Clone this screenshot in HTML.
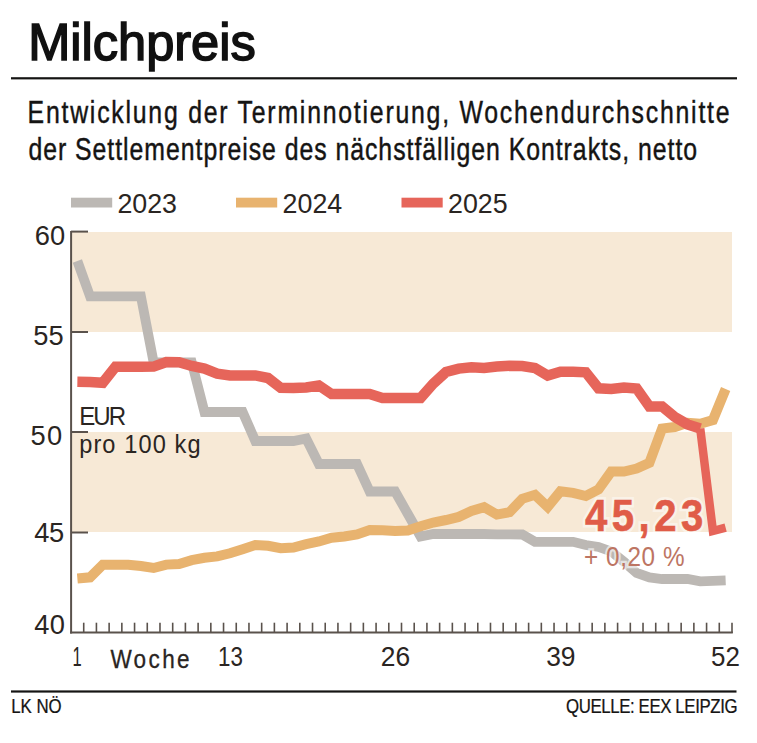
<!DOCTYPE html>
<html><head><meta charset="utf-8"><style>
html,body{margin:0;padding:0;background:#fff;}
svg{display:block;}
text{font-family:"Liberation Sans",sans-serif;}
</style></head><body>
<svg width="757" height="743" viewBox="0 0 757 743">
<rect width="757" height="743" fill="#fff"/>
<text x="28.20" y="59.9" font-size="52" fill="#111111" stroke="#111111" stroke-width="1.6" textLength="227.56" lengthAdjust="spacingAndGlyphs">Milchpreis</text>
<rect x="11" y="77.2" width="726" height="2.2" fill="#151413"/>
<text x="0" y="0" transform="translate(27.60 122.7) scale(0.8 1)" font-size="31" fill="#151413" stroke="#151413" stroke-width="0.45" textLength="877.44" lengthAdjust="spacing">Entwicklung der Terminnotierung, Wochendurchschnitte</text>
<text x="0" y="0" transform="translate(28.40 160.4) scale(0.8 1)" font-size="31" fill="#151413" stroke="#151413" stroke-width="0.45" textLength="835.81" lengthAdjust="spacing">der Settlementpreise des nächstfälligen Kontrakts, netto</text>
<rect x="71" y="197.7" width="41.2" height="9.8" fill="#bcb8b4"/>
<text x="0" y="0" transform="translate(117.40 212.7) scale(1.0 1)" font-size="26.8" fill="#2a2522" textLength="59.62" lengthAdjust="spacing">2023</text>
<rect x="236" y="197.7" width="41.2" height="9.8" fill="#e8b36f"/>
<text x="0" y="0" transform="translate(282.60 212.7) scale(1.0 1)" font-size="26.8" fill="#2a2522" textLength="59.62" lengthAdjust="spacing">2024</text>
<rect x="401.5" y="197.7" width="41.2" height="9.8" fill="#e6655a"/>
<text x="0" y="0" transform="translate(448.00 212.7) scale(1.0 1)" font-size="26.8" fill="#2a2522" textLength="59.62" lengthAdjust="spacing">2025</text>
<rect x="72" y="232" width="660" height="100" fill="#f7e9d6"/>
<rect x="72" y="432" width="660" height="100" fill="#f7e9d6"/>
<g stroke="#5a524c" fill="none">
<line x1="71.1" y1="231" x2="71.1" y2="633.5" stroke-width="2"/>
<line x1="70" y1="632.6" x2="732.8" y2="632.6" stroke-width="2"/>
<line x1="71" y1="231.6" x2="88" y2="231.6" stroke-width="2"/>
<line x1="71" y1="332" x2="88" y2="332" stroke-width="2"/>
<line x1="71" y1="432" x2="88" y2="432" stroke-width="2"/>
<line x1="71" y1="532.5" x2="88" y2="532.5" stroke-width="2"/>
<g stroke-width="1.6"><line x1="83.71" y1="622.7" x2="83.71" y2="633"/><line x1="96.42" y1="622.7" x2="96.42" y2="633"/><line x1="109.13" y1="622.7" x2="109.13" y2="633"/><line x1="121.85" y1="622.7" x2="121.85" y2="633"/><line x1="134.56" y1="622.7" x2="134.56" y2="633"/><line x1="147.27" y1="622.7" x2="147.27" y2="633"/><line x1="159.98" y1="622.7" x2="159.98" y2="633"/><line x1="172.69" y1="622.7" x2="172.69" y2="633"/><line x1="185.40" y1="622.7" x2="185.40" y2="633"/><line x1="198.12" y1="622.7" x2="198.12" y2="633"/><line x1="210.83" y1="622.7" x2="210.83" y2="633"/><line x1="223.54" y1="622.7" x2="223.54" y2="633"/><line x1="236.25" y1="622.7" x2="236.25" y2="633"/><line x1="248.96" y1="622.7" x2="248.96" y2="633"/><line x1="261.67" y1="622.7" x2="261.67" y2="633"/><line x1="274.38" y1="622.7" x2="274.38" y2="633"/><line x1="287.10" y1="622.7" x2="287.10" y2="633"/><line x1="299.81" y1="622.7" x2="299.81" y2="633"/><line x1="312.52" y1="622.7" x2="312.52" y2="633"/><line x1="325.23" y1="622.7" x2="325.23" y2="633"/><line x1="337.94" y1="622.7" x2="337.94" y2="633"/><line x1="350.65" y1="622.7" x2="350.65" y2="633"/><line x1="363.37" y1="622.7" x2="363.37" y2="633"/><line x1="376.08" y1="622.7" x2="376.08" y2="633"/><line x1="388.79" y1="622.7" x2="388.79" y2="633"/><line x1="401.50" y1="622.7" x2="401.50" y2="633"/><line x1="414.21" y1="622.7" x2="414.21" y2="633"/><line x1="426.92" y1="622.7" x2="426.92" y2="633"/><line x1="439.63" y1="622.7" x2="439.63" y2="633"/><line x1="452.35" y1="622.7" x2="452.35" y2="633"/><line x1="465.06" y1="622.7" x2="465.06" y2="633"/><line x1="477.77" y1="622.7" x2="477.77" y2="633"/><line x1="490.48" y1="622.7" x2="490.48" y2="633"/><line x1="503.19" y1="622.7" x2="503.19" y2="633"/><line x1="515.90" y1="622.7" x2="515.90" y2="633"/><line x1="528.62" y1="622.7" x2="528.62" y2="633"/><line x1="541.33" y1="622.7" x2="541.33" y2="633"/><line x1="554.04" y1="622.7" x2="554.04" y2="633"/><line x1="566.75" y1="622.7" x2="566.75" y2="633"/><line x1="579.46" y1="622.7" x2="579.46" y2="633"/><line x1="592.17" y1="622.7" x2="592.17" y2="633"/><line x1="604.88" y1="622.7" x2="604.88" y2="633"/><line x1="617.60" y1="622.7" x2="617.60" y2="633"/><line x1="630.31" y1="622.7" x2="630.31" y2="633"/><line x1="643.02" y1="622.7" x2="643.02" y2="633"/><line x1="655.73" y1="622.7" x2="655.73" y2="633"/><line x1="668.44" y1="622.7" x2="668.44" y2="633"/><line x1="681.15" y1="622.7" x2="681.15" y2="633"/><line x1="693.87" y1="622.7" x2="693.87" y2="633"/><line x1="706.58" y1="622.7" x2="706.58" y2="633"/><line x1="719.29" y1="622.7" x2="719.29" y2="633"/><line x1="732.00" y1="622.7" x2="732.00" y2="633"/></g>
</g>
<text x="0" y="0" transform="translate(34.80 244.6) scale(1.0 1)" font-size="27.3" fill="#2a2522" textLength="30.38" lengthAdjust="spacing">60</text><text x="0" y="0" transform="translate(33.20 344.5) scale(1.0 1)" font-size="27.3" fill="#2a2522" textLength="30.38" lengthAdjust="spacing">55</text><text x="0" y="0" transform="translate(30.40 444.6) scale(1.0 1)" font-size="27.3" fill="#2a2522" textLength="31.88" lengthAdjust="spacing">50</text><text x="0" y="0" transform="translate(34.20 542.0) scale(1.0 1)" font-size="27.3" fill="#2a2522" textLength="29.88" lengthAdjust="spacing">45</text><text x="0" y="0" transform="translate(34.20 633.7) scale(1.0 1)" font-size="27.3" fill="#2a2522" textLength="30.87" lengthAdjust="spacing">40</text>
<text x="72.40" y="665.9" font-size="27.3" fill="#2a2522" textLength="9.19" lengthAdjust="spacingAndGlyphs">1</text>
<text x="218.00" y="665.9" font-size="27.3" fill="#2a2522" textLength="24.88" lengthAdjust="spacingAndGlyphs">13</text><text x="380.80" y="665.9" font-size="27.3" fill="#2a2522" textLength="29.37" lengthAdjust="spacingAndGlyphs">26</text><text x="546.20" y="665.9" font-size="27.3" fill="#2a2522" textLength="29.37" lengthAdjust="spacingAndGlyphs">39</text><text x="711.00" y="665.9" font-size="27.3" fill="#2a2522" textLength="28.88" lengthAdjust="spacingAndGlyphs">52</text>
<text x="0" y="0" transform="translate(110.40 667.7) scale(0.85 1)" font-size="26.5" fill="#2a2522" stroke="#2a2522" stroke-width="0.3" textLength="93.14" lengthAdjust="spacing">Woche</text>
<rect x="11" y="690.4" width="725.5" height="2.2" fill="#151413"/>
<text x="0" y="0" transform="translate(11.20 713.2) scale(0.85 1)" font-size="19.8" fill="#151413" stroke="#151413" stroke-width="0.25" textLength="59.38" lengthAdjust="spacing">LK NÖ</text>
<text x="0" y="0" transform="translate(566.00 712.5) scale(0.85 1)" font-size="19.8" fill="#151413" stroke="#151413" stroke-width="0.25" textLength="201.77" lengthAdjust="spacing">QUELLE: EEX LEIPZIG</text>
<text x="0" y="0" transform="translate(79.20 424.6) scale(0.92 1)" font-size="26.2" fill="#2a2522" textLength="50.94" lengthAdjust="spacing">EUR</text>
<text x="0" y="0" transform="translate(79.20 452.7) scale(0.9 1)" font-size="26.2" fill="#2a2522" textLength="134.84" lengthAdjust="spacing">pro 100 kg</text>
<polyline points="77.36,261.0 90.07,296.4 102.78,296.4 115.49,296.4 128.20,296.4 140.91,296.4 153.62,362.3 166.34,362.3 179.05,362.3 191.76,362.3 204.47,412.0 217.18,412.0 229.89,412.0 242.61,412.0 255.32,441.0 268.03,441.0 280.74,441.0 293.45,441.0 306.16,438.5 318.88,464.0 331.59,464.0 344.30,464.0 357.01,464.0 369.72,491.5 382.43,491.5 395.14,491.5 407.86,514.0 420.57,536.5 433.28,534.0 445.99,534.0 458.70,534.0 471.41,534.0 484.12,534.0 496.84,534.3 509.55,534.3 522.26,534.5 534.97,541.8 547.68,541.8 560.39,541.8 573.11,541.8 585.82,545.0 598.53,547.0 611.24,551.5 623.95,561.8 636.66,573.0 649.38,577.4 662.09,579.0 674.80,579.0 687.51,579.0 700.22,581.4 712.93,580.9 725.64,580.4" fill="none" stroke="#bcb8b4" stroke-width="9.8" stroke-linejoin="miter" stroke-miterlimit="10"/>
<polyline points="77.36,578.4 90.07,577.3 102.78,564.8 115.49,564.8 128.20,564.8 140.91,566.0 153.62,568.0 166.34,564.6 179.05,564.0 191.76,560.2 204.47,557.8 217.18,556.4 229.89,553.3 242.61,549.2 255.32,545.0 268.03,545.8 280.74,548.2 293.45,547.5 306.16,544.2 318.88,541.5 331.59,537.8 344.30,536.5 357.01,534.4 369.72,530.0 382.43,530.3 395.14,530.9 407.86,530.5 420.57,526.2 433.28,522.5 445.99,520.0 458.70,516.9 471.41,511.0 484.12,507.2 496.84,514.6 509.55,512.2 522.26,498.8 534.97,494.8 547.68,506.9 560.39,491.3 573.11,492.9 585.82,496.0 598.53,489.4 611.24,471.5 623.95,471.5 636.66,468.5 649.38,462.7 662.09,428.5 674.80,427.0 687.51,422.8 700.22,423.7 712.93,420.0 725.64,389.0" fill="none" stroke="#e8b36f" stroke-width="10" stroke-linejoin="miter" stroke-miterlimit="10"/>
<polyline points="77.36,381.8 90.07,382.0 102.78,382.8 115.49,366.8 128.20,366.8 140.91,366.8 153.62,366.6 166.34,362.0 179.05,362.3 191.76,366.0 204.47,368.6 217.18,373.6 229.89,375.4 242.61,375.4 255.32,375.4 268.03,378.0 280.74,387.8 293.45,388.1 306.16,387.5 318.88,385.5 331.59,394.0 344.30,394.0 357.01,394.0 369.72,394.0 382.43,398.0 395.14,398.0 407.86,398.0 420.57,398.0 433.28,383.6 445.99,372.0 458.70,368.6 471.41,367.2 484.12,368.0 496.84,366.6 509.55,365.8 522.26,366.1 534.97,368.0 547.68,375.5 560.39,371.8 573.11,371.8 585.82,372.3 598.53,388.3 611.24,389.0 623.95,387.5 636.66,388.5 649.38,406.5 662.09,406.5 674.80,417.0 687.51,424.4 700.22,428.6" fill="none" stroke="#e6655a" stroke-width="10.5" stroke-linejoin="miter" stroke-miterlimit="10"/>
<polyline points="700.22,428.6 712.93,531.0 725.64,527.6" fill="none" stroke="#e6655a" stroke-width="8.5" stroke-linejoin="miter" stroke-miterlimit="10"/>
<text x="0" y="0" transform="translate(585.00 531.0) scale(0.9 1)" font-size="44.5" fill="#fff" font-weight="bold" stroke="#fff" stroke-width="6" textLength="131.36" lengthAdjust="spacing" opacity="0.45">45,23</text>
<text x="0" y="0" transform="translate(585.00 531.0) scale(0.9 1)" font-size="44.5" fill="#e05c48" font-weight="bold" stroke="#e05c48" stroke-width="0.6" textLength="131.36" lengthAdjust="spacing">45,23</text>
<text x="0" y="0" transform="translate(584.00 565.9) scale(0.9 1)" font-size="27" fill="#fff" stroke="#fff" stroke-width="4.5" textLength="111.73" lengthAdjust="spacing" opacity="0.6">+ 0,20 %</text>
<text x="0" y="0" transform="translate(584.00 565.9) scale(0.9 1)" font-size="27" fill="#bd7563" textLength="111.73" lengthAdjust="spacing">+ 0,20 %</text>
</svg>
</body></html>
